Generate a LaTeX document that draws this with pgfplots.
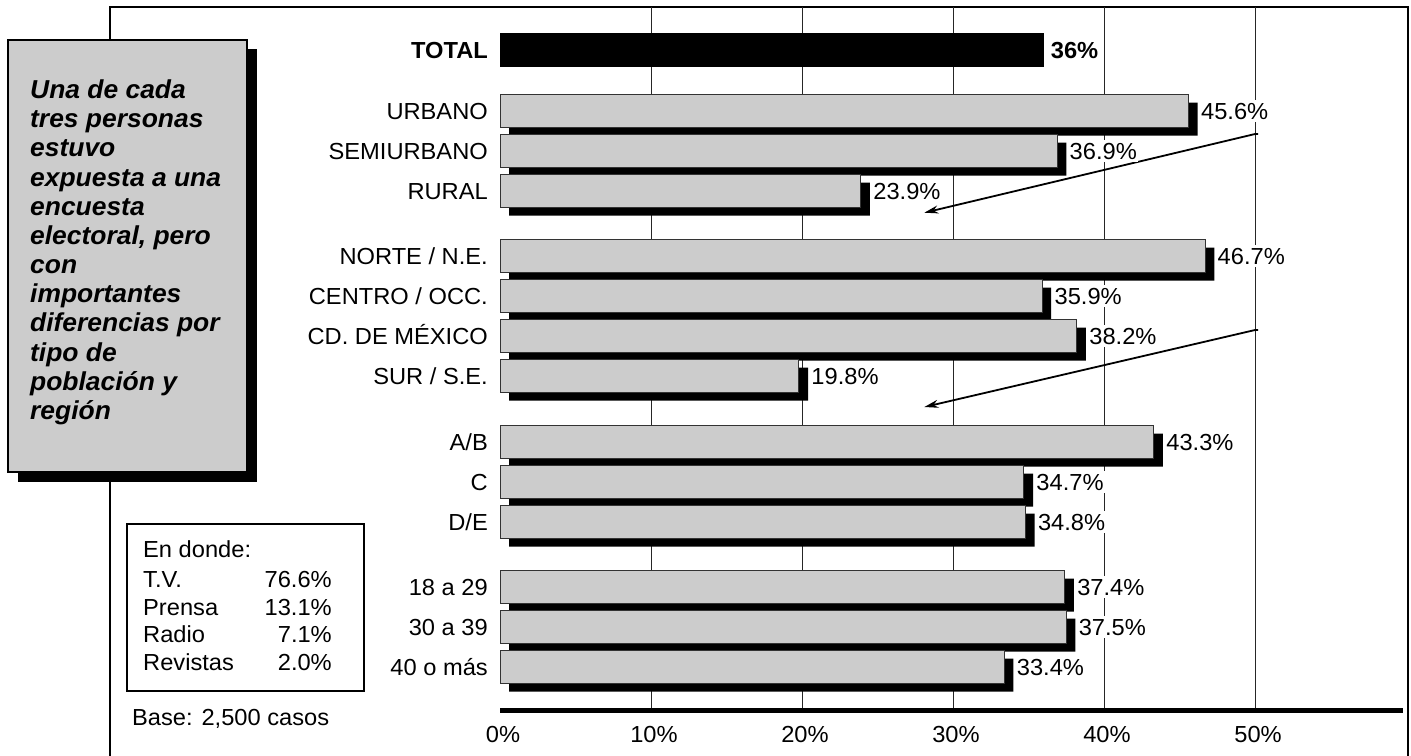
\documentclass[border=0pt]{standalone}
\usepackage{fontspec}
\setmainfont{Liberation Sans}[FakeStretch=1.02]
\usepackage{pgfplots}
\pgfplotsset{compat=1.18}
\usepackage{pgfplotstable}
\usetikzlibrary{arrows.meta}
\definecolor{barfill}{RGB}{204,204,204}

% y = bar centre (downwards), ys = shadow centre, off = shadow start, v = value (%)
\pgfplotstableread{
y   ys   off  v
111 119  0.6  45.6
151 159  0.6  36.9
191 199  0.6  23.9
256 264  0.6  46.7
296 304  0.6  35.9
336 344  0.6  38.2
376 384  0.6  19.8
442 450  0.6  43.3
482 490  0.6  34.7
522 530  0.6  34.8
587 595  0.6  37.4
627 635  0.6  37.5
667 675  0.6  33.4
}\groups

\pgfplotsset{common/.style={
  scale only axis, width=903bp, height=703bp,
  xmin=0, xmax=59.8, ymin=7, ymax=710, y dir=reverse,
  at={(500bp,-710bp)}, anchor=south west,
  axis line style={draw=none}, clip=false,
}}
\newcommand{\lab}{\fontsize{23.3}{28}\selectfont}

\begin{document}
\begin{tikzpicture}
% frame
\draw[line width=2bp] (110bp,-770bp) -- (110bp,-7bp) -- (1408bp,-7bp) -- (1408bp,-770bp);
% left text box
\fill[black] (18bp,-49bp) rectangle (257bp,-482bp);
\filldraw[fill=barfill, draw=black, line width=2bp] (8bp,-40bp) rectangle (247bp,-472bp);
\node[anchor=north west, align=left, inner sep=0pt,
      font=\bfseries\itshape\fontsize{26}{29.3}\selectfont] at (30bp,-79.5bp)
 {Una de cada\\tres personas\\estuvo\\expuesta a una\\encuesta\\electoral, pero\\con\\importantes\\diferencias por\\tipo de\\población y\\región};
% small box
\draw[line width=1.5bp] (127bp,-524bp) rectangle (364bp,-691bp);
\begin{scope}[every node/.style={inner sep=0pt, font=\fontsize{23.3}{27}\selectfont}]
\node[anchor=base west] at (143bp,-557bp) {En donde:};
\node[anchor=base west] at (143bp,-587bp) {T.V.};
\node[anchor=base west] at (143bp,-615bp) {Prensa};
\node[anchor=base west] at (143bp,-642bp) {Radio};
\node[anchor=base west] at (143bp,-670bp) {Revistas};
\node[anchor=base east] at (332bp,-587bp) {76.6\%};
\node[anchor=base east] at (332bp,-615bp) {13.1\%};
\node[anchor=base east] at (332bp,-642bp) {7.1\%};
\node[anchor=base east] at (332bp,-670bp) {2.0\%};
\end{scope}
\node[anchor=base west, inner sep=0pt, font=\fontsize{23.3}{27}\selectfont] at (132bp,-725bp) {Base: 2,500 casos};

% shadows + grid
\begin{axis}[common, xbar stacked, bar width=33bp,
  xtick={10,20,30,40,50}, ytick=\empty, xticklabels={},
  major tick length=0pt,
  xmajorgrids, grid style={black!85, line width=1bp}]
\addplot[draw=none, fill=none] table[x=off, y=ys]{\groups};
\addplot[draw=none, fill=black] table[x=v, y=ys]{\groups};
\end{axis}

% main bars
\begin{axis}[common,
  xtick={0,10,20,30,40,50}, xticklabels={0\%,10\%,20\%,30\%,40\%,50\%},
  ytick={50,111,151,191,256,296,336,376,442,482,522,587,627,667},
  yticklabels={\textbf{TOTAL},URBANO,SEMIURBANO,RURAL,NORTE / N.E.,CENTRO / OCC.,CD. DE MÉXICO,SUR / S.E.,A/B,C,D/E,18 a 29,30 a 39,40 o más},
  major tick length=0pt,
  xticklabel style={anchor=north, inner sep=0pt, yshift=-16bp, xshift=3bp, font=\lab, text height=16.7bp, text depth=0pt},
  yticklabel style={anchor=east, inner sep=0pt, xshift=-12bp, font=\lab, text height=16.7bp, text depth=0pt},
  /pgf/number format/assume math mode=true,
]
\addplot[xbar, bar shift=0pt, bar width=33bp, fill=black, draw=black, line width=0.5bp,
  point meta=x,
  nodes near coords={\textbf{\pgfmathprintnumber[fixed,precision=0]{\pgfplotspointmeta}\%}},
  nodes near coords style={anchor=west, inner sep=1bp, xshift=6bp, font=\lab, text height=16.7bp, text depth=0pt}]
  coordinates {(36,50)};
\addplot[xbar, bar shift=0pt, bar width=33bp, fill=barfill, draw=black!80, line width=1bp,
  point meta=x,
  nodes near coords={\pgfmathprintnumber[fixed,fixed zerofill,precision=1]{\pgfplotspointmeta}\%},
  nodes near coords style={anchor=west, fill=white, inner xsep=1bp, inner ysep=3bp, xshift=11bp, font=\lab, text height=16.7bp, text depth=0pt}]
  table[x=v, y=y]{\groups};
% arrows
\draw[line width=1.8bp, -{Stealth[length=14bp,width=8bp]}] (axis cs:50.2,134) -- (axis cs:50,134) -- (axis cs:28.1,212.7);
\draw[line width=1.8bp, -{Stealth[length=14bp,width=8bp]}] (axis cs:50.2,330) -- (axis cs:50,330) -- (axis cs:28.1,407);
% bottom axis line
\draw[line width=4.5bp] (axis cs:0,710.5) -- (axis cs:59.8,710.5);
\end{axis}
\pgfresetboundingbox
\path (0,0) rectangle (1411bp,-756bp);
\end{tikzpicture}
\end{document}
